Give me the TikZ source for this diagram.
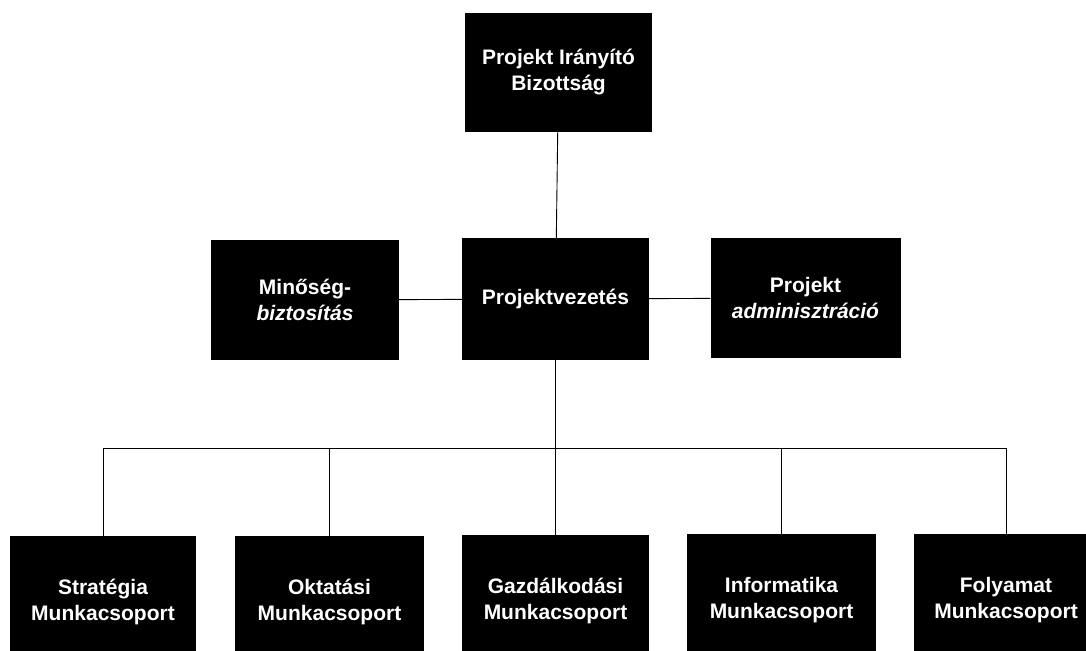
\documentclass[tikz,border=0pt]{standalone}
\usepackage{fontspec}
\setmainfont{Liberation Sans}
\tikzset{
  box/.style={fill=black, text=white, inner sep=0pt, align=center,
    font=\fontsize{21}{26}\selectfont\bfseries},
  line/.style={line width=0.9pt}
}
\begin{document}
\begin{tikzpicture}[x=1pt,y=-1pt]
    \useasboundingbox (0,0) rectangle (1086,650);

    % Irányító bizottság
    \node[box, minimum width=187pt, minimum height=119pt] (board) at (558.5,72.5) {Projekt Irányító\\Bizottság};

    % Középső sor
    \node[box, minimum width=188pt, minimum height=120pt] (quality) at (305,300) {Minőség-\\\textit{biztosítás}};
    \node[box, minimum width=187pt, minimum height=122pt] (lead) at (555.5,299) {Projektvezetés};
    \node[box, minimum width=190pt, minimum height=120pt] (admin) at (805.5,298) {Projekt\\\textit{adminisztráció}};

    % Munkacsoportok
    \node[box, minimum width=186pt, minimum height=132pt] (strat) at (103,602) {Stratégia\\Munkacsoport};
    \node[box, minimum width=189pt, minimum height=132pt] (edu) at (329.5,602) {Oktatási\\Munkacsoport};
    \node[box, minimum width=187pt, minimum height=132pt] (econ) at (555.5,601) {Gazdálkodási\\Munkacsoport};
    \node[box, minimum width=189pt, minimum height=132pt] (info) at (781.5,600) {Informatika\\Munkacsoport};
    \node[box, minimum width=184pt, minimum height=132pt] (proc) at (1006,600) {Folyamat\\Munkacsoport};

    % Összekötő vonalak
    \coordinate (bus) at (555.5,448);
    \draw[line] (board) -- (lead);
    \draw[line] (quality) -- (lead);
    \draw[line] (lead) -- (admin);
    \draw[line] (lead) -- (bus);
    \foreach \n in {strat,edu,econ,info,proc}
        \draw[line] (bus) -| (\n.north);
\end{tikzpicture}
\end{document}
